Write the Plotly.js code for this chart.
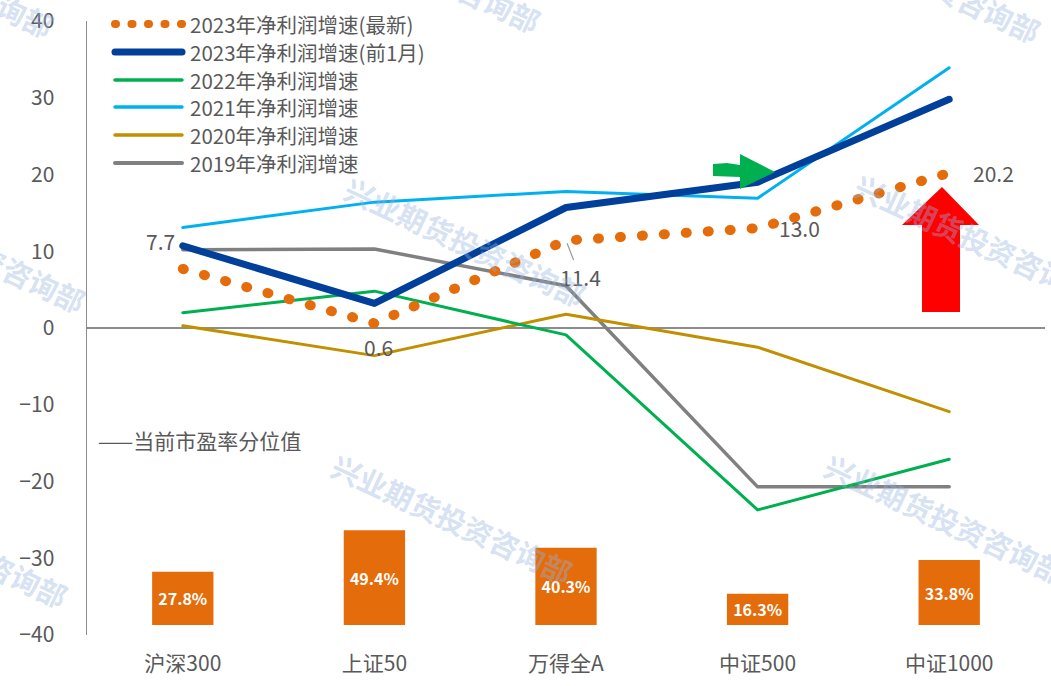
<!DOCTYPE html>
<html>
<head>
<meta charset="utf-8">
<script src="https://cdn.plot.ly/plotly-3.0.1.min.js"></script>
<style>
html,body{margin:0;padding:0;background:#fff;}
#chart{width:1051px;height:686px;}
.scatterlayer path.js-line, .shapelayer path { stroke-linecap: round; stroke-linejoin: round; }
</style>
</head>
<body>
<div id="chart"></div>
<script>
// ---- data ----
const categories = ['沪深300', '上证50', '万得全A', '中证500', '中证1000'];
const g2023Latest = [7.7, 0.6, 11.4, 13.0, 20.2];
const g2023PrevMonth = [10.7, 3.2, 15.7, 19.0, 29.8];
const g2022 = [2.0, 4.8, -0.9, -23.7, -17.1];
const g2021 = [13.1, 16.4, 17.8, 16.9, 33.9];
const g2020 = [0.3, -3.6, 1.8, -2.5, -10.9];
const g2019 = [10.2, 10.3, 5.5, -20.7, -20.7];
const pePercentile = [27.8, 49.4, 40.3, 16.3, 33.8];
const seriesNames = ['2023年净利润增速(最新)', '2023年净利润增速(前1月)', '2022年净利润增速',
                     '2021年净利润增速', '2020年净利润增速', '2019年净利润增速'];
const peLabel = '——当前市盈率分位值';
const watermarkText = '兴业期货投资咨询部';
const yTicks = [-40, -30, -20, -10, 0, 10, 20, 30, 40];

// ---- layout helpers (pixel -> paper) ----
const W = 1051, H = 686;
const M = {l: 87, r: 6, t: 21, b: 51};
const PW = W - M.l - M.r, PH = H - M.t - M.b;
const px = x => (x - M.l) / PW;
const py = y => (H - M.b - y) / PH;

const FONT = '"Noto Sans CJK SC", "Noto Sans", sans-serif';
const TXT = '#595959';

const colors = {
  latest: '#E46C0A', prev: '#003F9A', y2022: '#00B050',
  y2021: '#00B0F0', y2020: '#C09000', y2019: '#808080', bar: '#E46C0A'
};

function lineTrace(y, name, color, width, dash) {
  return {x: categories, y: y, name: name, type: 'scatter', mode: 'lines',
          line: {color: color, width: width, dash: dash || 'solid'},
          hoverinfo: 'skip', showlegend: false};
}

const traces = [
  {x: categories, y: pePercentile, type: 'bar', yaxis: 'y2', width: 0.32,
   marker: {color: colors.bar}, text: pePercentile.map(v => v.toFixed(1) + '%'),
   textposition: 'inside', insidetextanchor: 'middle', constraintext: 'none',
   textfont: {color: '#ffffff', size: 16, family: FONT, weight: 'bold'},
   hoverinfo: 'skip', showlegend: false},
  lineTrace(g2019, seriesNames[5], colors.y2019, 3.5),
  lineTrace(g2020, seriesNames[4], colors.y2020, 3),
  lineTrace(g2021, seriesNames[3], colors.y2021, 3),
  lineTrace(g2022, seriesNames[2], colors.y2022, 3),
  lineTrace(g2023PrevMonth, seriesNames[1], colors.prev, 7),
  lineTrace(g2023Latest, seriesNames[0], colors.latest, 10, '1px,21px')
];

// ---- annotations ----
const ann = [];
// data labels for latest 2023 series
const lblOffsets = [[-22, 28], [4, -24], [14, -36], [42, 0], [44, 0]];
g2023Latest.forEach((v, i) => {
  if (i === 2) {
    ann.push({x: categories[i], y: v, xref: 'x', yref: 'y', text: v.toFixed(1),
      showarrow: true, arrowhead: 0, arrowwidth: 1.2, arrowcolor: '#999999',
      ax: 14, ay: 36, standoff: 3,
      font: {size: 21, color: TXT, family: FONT}});
  } else {
    ann.push({x: categories[i], y: v, xref: 'x', yref: 'y', text: v.toFixed(1),
      showarrow: false, xshift: lblOffsets[i][0], yshift: lblOffsets[i][1],
      font: {size: 21, color: TXT, family: FONT}});
  }
});
// PE label
ann.push({x: px(96), y: py(457), xref: 'paper', yref: 'paper', text: peLabel,
  showarrow: false, xanchor: 'left', font: {size: 21, color: TXT, family: FONT}});

// manual legend
const legendRows = [24, 52, 80, 107, 135, 163];
const legendColors = [colors.latest, colors.prev, colors.y2022, colors.y2021, colors.y2020, colors.y2019];
const legendWidths = [8, 7, 3.5, 3.5, 3.5, 4];
const shapes = [];
legendRows.forEach((ry, i) => {
  shapes.push({type: 'line', xref: 'paper', yref: 'paper',
    x0: px(115), x1: px(182), y0: py(ry), y1: py(ry),
    line: {color: legendColors[i], width: legendWidths[i], dash: i === 0 ? '1px,15.5px' : 'solid'}});
  ann.push({x: px(188), y: py(ry), xref: 'paper', yref: 'paper', text: seriesNames[i],
    showarrow: false, xanchor: 'left', yanchor: 'middle',
    font: {size: 20.5, color: TXT, family: FONT}});
});

// arrows (decorations)
function poly(pts) {
  return 'M' + pts.map(p => px(p[0]).toFixed(5) + ',' + py(p[1]).toFixed(5)).join(' L') + ' Z';
}
shapes.push({type: 'path', xref: 'paper', yref: 'paper', layer: 'above',
  path: poly([[942, 187], [979, 225], [960, 225], [960, 312], [922, 312], [922, 225], [902, 225]]),
  fillcolor: '#FF0000', line: {width: 0}});
shapes.push({type: 'path', xref: 'paper', yref: 'paper', layer: 'above',
  path: poly([[713, 164], [727, 163], [740, 165], [740, 154], [775, 172], [740, 189], [740, 177], [713, 176]]),
  fillcolor: '#00B050', line: {width: 0}});

// watermarks
const wmCenters = [[-67, -28], [420, -33], [920, -23], [-35, 247], [465, 241], [975, 238],
                   [-53, 542], [452, 518], [945, 518]];
wmCenters.forEach(c => {
  ann.push({x: px(c[0]), y: py(c[1]), xref: 'paper', yref: 'paper', text: watermarkText,
    showarrow: false, textangle: 25, xanchor: 'center', yanchor: 'middle',
    font: {size: 29, color: 'rgba(150,178,225,0.40)', family: FONT, weight: 'bold'}});
});

const layout = {
  width: W, height: H,
  margin: M,
  paper_bgcolor: '#ffffff', plot_bgcolor: '#ffffff',
  showlegend: false,
  font: {family: FONT, color: TXT, size: 21},
  xaxis: {type: 'category', range: [-0.5, 4.5], showgrid: false, zeroline: false,
          showline: false, ticks: '', ticklabelstandoff: 14,
          tickfont: {size: 21, color: TXT, family: FONT}, fixedrange: true},
  yaxis: {range: [-40, 40], tickvals: yTicks, showgrid: false, zeroline: true,
          zerolinecolor: '#8c8c8c', zerolinewidth: 1.5, showline: true,
          linecolor: '#8c8c8c', linewidth: 1.5, ticks: '', ticklabelstandoff: 27,
          tickfont: {size: 21, color: TXT, family: FONT}, fixedrange: true},
  yaxis2: {overlaying: 'y', range: [-5.2, 314.6], visible: false, fixedrange: true},
  barmode: 'overlay',
  annotations: ann,
  shapes: shapes
};

Plotly.newPlot('chart', traces, layout, {displayModeBar: false, staticPlot: true});
</script>
</body>
</html>
